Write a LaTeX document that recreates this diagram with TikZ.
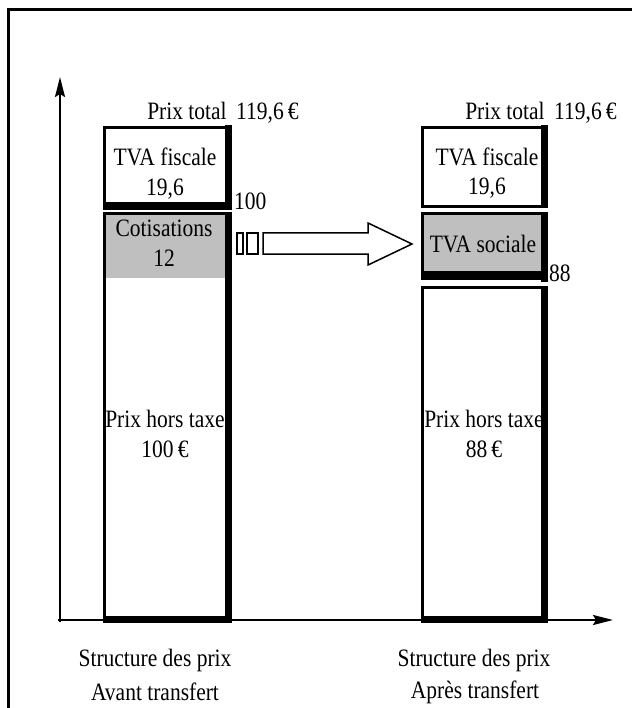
\documentclass[tikz,border=0pt]{standalone}
\usepackage{fontspec}
\setmainfont{Liberation Serif}[FakeStretch=0.86]
\usetikzlibrary{arrows.meta}
\begin{document}
\begin{tikzpicture}[x=1pt,y=-1pt,
  lbl/.style={font=\fontsize{25}{27}\selectfont, inner sep=0pt},
  thin box/.style={line width=3pt},
  shadowfill/.style={fill=black},
  grayfill/.style={fill=black!25},
  axis/.style={line width=2pt,-{Stealth[length=20pt,width=10pt,inset=3pt]}},
  blockarrow/.style={line width=1.5pt}]
\useasboundingbox (0,0) rectangle (632,708);
\fill[white] (0,0) rectangle (632,708);
% frame
\draw[line width=3pt] (8,708) -- (8,10) -- (632,10);
% axes
\coordinate (ytip) at (60,77);
\coordinate (xtip) at (613,620);
\draw[axis] (60,622) -- (ytip);
\draw[axis] (58,620) -- (xtip);

% ---------- left bar ----------
\draw[thin box] (104.5,127.5) rectangle (228,205);
\fill[shadowfill] (225,125) rectangle (232,210);
\fill[shadowfill] (103,202) rectangle (232,210);
\fill[grayfill] (106,215) rectangle (226,278);
\draw[line width=3pt] (104.5,622) -- (104.5,214) -- (228,214);
\fill[shadowfill] (225,212) rectangle (232,623);
\fill[shadowfill] (103,616) rectangle (232,623);

% ---------- right bar ----------
\draw[thin box] (422.5,127.5) rectangle (544,206.5);
\fill[shadowfill] (541,125) rectangle (548,208);
\fill[grayfill] (424,215) rectangle (541,272);
\draw[line width=3pt] (422.5,272) -- (422.5,214) -- (544,214);
\fill[shadowfill] (421,271) rectangle (548,280);
\fill[shadowfill] (541,212) rectangle (548,282);
\draw[line width=3pt] (422.5,622) -- (422.5,287) -- (544,287);
\fill[shadowfill] (541,286) rectangle (548,623);
\fill[shadowfill] (421,616) rectangle (548,623);

% ---------- block arrow ----------
\draw[blockarrow] (237,233) rectangle (243,254);
\draw[blockarrow] (247,233) rectangle (258,254);
\draw[blockarrow] (263,233) -- (368,233) -- (368,223) -- (412,244)
  -- (368,265) -- (368,254) -- (263,254) -- cycle;

% ---------- texts ----------
\node[lbl] (ptl) at (223,113) {Prix total\, 119,6\,€};
\node[lbl] (ptr) at (541,113) {Prix total\, 119,6\,€};

\node[lbl] (tvafl) at (165,157) {TVA fiscale};
\node[lbl] (tvafvl) at (165,189) {19,6};
\node[lbl,anchor=west] (cent) at (234,201) {100};
\node[lbl] (cot) at (164,228) {Cotisations};
\node[lbl] (cotv) at (164,258) {12};
\node[lbl] (phtl) at (165,419) {Prix hors taxe};
\node[lbl] (phtlv) at (165,449) {100\,€};

\node[lbl] (tvafr) at (487,157) {TVA fiscale};
\node[lbl] (tvafvr) at (487,188) {19,6};
\node[lbl] (tvas) at (483,244) {TVA sociale};
\node[lbl,anchor=west] (qq) at (549,273) {88};
\node[lbl] (phtr) at (484,419) {Prix hors taxe};
\node[lbl] (phtrv) at (484,449) {88\,€};

\node[lbl] (sl1) at (155,660) {Structure des prix};
\node[lbl] (sl2) at (155,692) {Avant transfert};
\node[lbl] (sr1) at (474,660) {Structure des prix};
\node[lbl] (sr2) at (475,692) {Après transfert};
\end{tikzpicture}
\end{document}
